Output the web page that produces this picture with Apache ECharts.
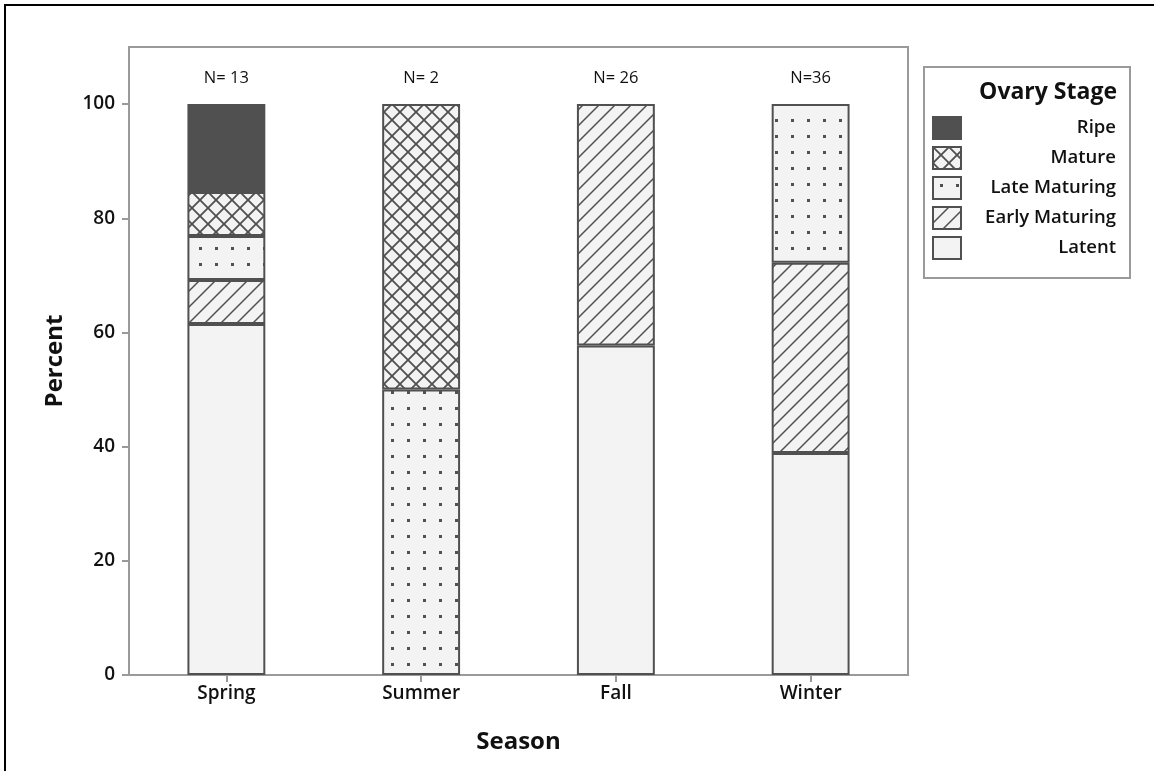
<!DOCTYPE html>
<html>
<head>
<meta charset="utf-8">
<script src="https://cdn.jsdelivr.net/npm/echarts@6/dist/echarts.min.js"></script>
<style>
html,body{margin:0;padding:0;background:#fff;}
#chart{width:1154px;height:771px;}
</style>
</head>
<body>
<div id="chart"></div>
<script>
const seasons = ['Spring', 'Summer', 'Fall', 'Winter'];
const nLabels = ['N= 13', 'N= 2', 'N= 26', 'N=36'];
const latent = [61.5, 0, 57.7, 38.9];
const earlyMaturing = [7.7, 0, 42.3, 33.3];
const lateMaturing = [7.7, 50, 0, 27.8];
const mature = [7.7, 50, 0, 0];
const ripe = [15.4, 0, 0, 0];
const yTicks = [0, 20, 40, 60, 80, 100];
const stageNames = ['Latent', 'Early Maturing', 'Late Maturing', 'Mature', 'Ripe'];

const FILL = '#f3f3f3', INK = '#505050';

function tile(draw) {
  const c = document.createElement('canvas');
  c.width = 16; c.height = 16;
  const g = c.getContext('2d');
  g.fillStyle = FILL; g.fillRect(0, 0, 16, 16);
  g.strokeStyle = INK; g.fillStyle = INK; g.lineWidth = 1.5;
  draw(g);
  return { image: c, repeat: 'repeat' };
}
function fwd(g) {
  g.beginPath();
  g.moveTo(-2, 18); g.lineTo(18, -2);
  g.moveTo(-2, 2); g.lineTo(2, -2);
  g.moveTo(14, 18); g.lineTo(18, 14);
  g.stroke();
}
function back(g) {
  g.beginPath();
  g.moveTo(-2, -2); g.lineTo(18, 18);
  g.moveTo(-2, 14); g.lineTo(2, 18);
  g.moveTo(14, -2); g.lineTo(18, 2);
  g.stroke();
}
const patterns = {
  'Latent': FILL,
  'Early Maturing': tile(fwd),
  'Late Maturing': tile(g => { g.fillRect(7, 7, 3, 3); }),
  'Mature': tile(g => { g.lineWidth = 1.8; fwd(g); back(g); }),
  'Ripe': INK
};
const values = {
  'Latent': latent,
  'Early Maturing': earlyMaturing,
  'Late Maturing': lateMaturing,
  'Mature': mature,
  'Ripe': ripe
};

const FONT = 'Open Sans';
const series = stageNames.map(name => ({
  name: name,
  type: 'bar',
  stack: 'total',
  barWidth: '40%',
  data: values[name].map(v => v === 0 ? null : v),
  itemStyle: { color: patterns[name], borderColor: INK, borderWidth: 2 },
  emphasis: { disabled: true }
}));
series.push({
  name: 'N',
  type: 'bar',
  stack: 'total',
  barWidth: '40%',
  data: seasons.map(() => 0),
  itemStyle: { color: 'transparent', borderWidth: 0 },
  label: {
    show: true, position: 'top', distance: 17,
    formatter: p => nLabels[p.dataIndex],
    fontFamily: FONT, fontSize: 16.5, color: '#111'
  },
  silent: true
});

const chart = echarts.init(document.getElementById('chart'), null, { renderer: 'canvas' });
chart.setOption({
  animation: false,
  backgroundColor: '#fff',
  textStyle: { fontFamily: FONT },
  grid: { left: 129, right: 246, top: 47, bottom: 96, show: true, borderColor: '#9a9a9a', borderWidth: 2, containLabel: false },
  xAxis: {
    type: 'category',
    data: seasons,
    name: 'Season',
    nameLocation: 'middle',
    nameGap: 55,
    nameTextStyle: { fontFamily: FONT, fontSize: 24, fontWeight: 'bold', color: '#111' },
    axisLine: { show: true, lineStyle: { color: '#9a9a9a', width: 2 } },
    axisTick: { show: true, alignWithLabel: true, length: 7, lineStyle: { color: '#9a9a9a', width: 2 } },
    axisLabel: { fontFamily: FONT, fontSize: 19, fontWeight: 600, color: '#111', margin: 9 }
  },
  yAxis: {
    type: 'value',
    min: 0, max: 110, interval: 20,
    name: 'Percent',
    nameLocation: 'middle',
    nameGap: 62,
    nameTextStyle: { fontFamily: FONT, fontSize: 24, fontWeight: 'bold', color: '#111' },
    splitLine: { show: false },
    axisLine: { show: true, lineStyle: { color: '#9a9a9a', width: 2 } },
    axisTick: { show: true, length: 7, customValues: yTicks, lineStyle: { color: '#9a9a9a', width: 2 } },
    axisLabel: { fontFamily: FONT, fontSize: 19, fontWeight: 600, color: '#111', margin: 14, customValues: yTicks }
  },
  legend: {
    data: stageNames.slice().reverse(),
    orient: 'vertical',
    left: 927, top: 111,
    itemWidth: 28, itemHeight: 22, itemGap: 6,
    icon: 'rect',
    selectedMode: false,
    formatter: n => '{a|' + n + '}',
    textStyle: {
      rich: { a: { width: 150, lineHeight: 22, align: 'right', fontFamily: FONT, fontSize: 18.5, fontWeight: 600, color: '#111' } }
    }
  },
  graphic: [
    { type: 'rect', shape: { x: 924, y: 67, width: 206, height: 211 }, style: { fill: 'none', stroke: '#9a9a9a', lineWidth: 2 }, silent: true },
    { type: 'text', x: 1117, y: 92, style: { text: 'Ovary Stage', fontFamily: FONT, fontSize: 23, fontWeight: 'bold', fill: '#111', align: 'right', verticalAlign: 'middle' }, silent: true },
    { type: 'polyline', shape: { points: [[5, 771], [5, 5], [1154, 5]] }, style: { fill: 'none', stroke: '#000', lineWidth: 2 }, silent: true }
  ],
  series: series
});
</script>
</body>
</html>
